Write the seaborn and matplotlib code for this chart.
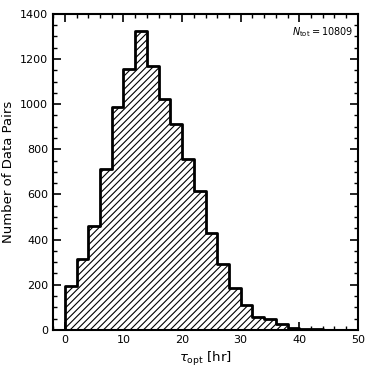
import numpy as np
import matplotlib
matplotlib.use("Agg")
import matplotlib.pyplot as plt
from matplotlib.ticker import MultipleLocator
import seaborn as sns

# bin edges (hours) and counts per bin
bin_edges = list(range(0, 46, 2))
counts = [195, 316, 458, 713, 986, 1155, 1326, 1171, 1022, 911, 759,
          617, 431, 292, 185, 108, 59, 49, 27, 8, 3, 2]
n_tot = 10809

centers = [e + 1 for e in bin_edges[:-1]]

sns.set_style("ticks", {"axes.edgecolor": "black", "xtick.color": "black",
                        "ytick.color": "black", "text.color": "black",
                        "axes.labelcolor": "black"})
plt.rcParams["font.family"] = ["DejaVu Sans"]
plt.rcParams["hatch.linewidth"] = 0.8

fig = plt.figure(figsize=(3.74, 3.74), dpi=100)
ax = fig.add_axes([0.142, 0.118, 0.815, 0.845])

sns.histplot(x=centers, weights=counts, bins=bin_edges, element="step",
             fill=True, color="black", facecolor="white", edgecolor="black",
             linewidth=2, hatch="/////", alpha=1, ax=ax)

ax.set_xlim(-2, 50)
ax.set_ylim(0, 1400)
ax.xaxis.set_major_locator(MultipleLocator(10))
ax.xaxis.set_minor_locator(MultipleLocator(2))
ax.yaxis.set_major_locator(MultipleLocator(200))
ax.yaxis.set_minor_locator(MultipleLocator(50))
ax.tick_params(which="both", direction="in", top=True, right=True, labelsize=8)
ax.tick_params(which="major", length=6, width=1.2)
ax.tick_params(which="minor", length=3, width=1)
for s in ax.spines.values():
    s.set_linewidth(1.5)

ax.set_xlabel(r"$\tau_{\rm opt}$ [hr]", fontsize=9.5)
ax.set_ylabel("Number of Data Pairs", fontsize=9.5)
ax.text(0.985, 0.965, r"$N_{\rm tot} = %d$" % n_tot, transform=ax.transAxes,
        ha="right", va="top", fontsize=7)

fig.savefig("out.png", dpi=100)
